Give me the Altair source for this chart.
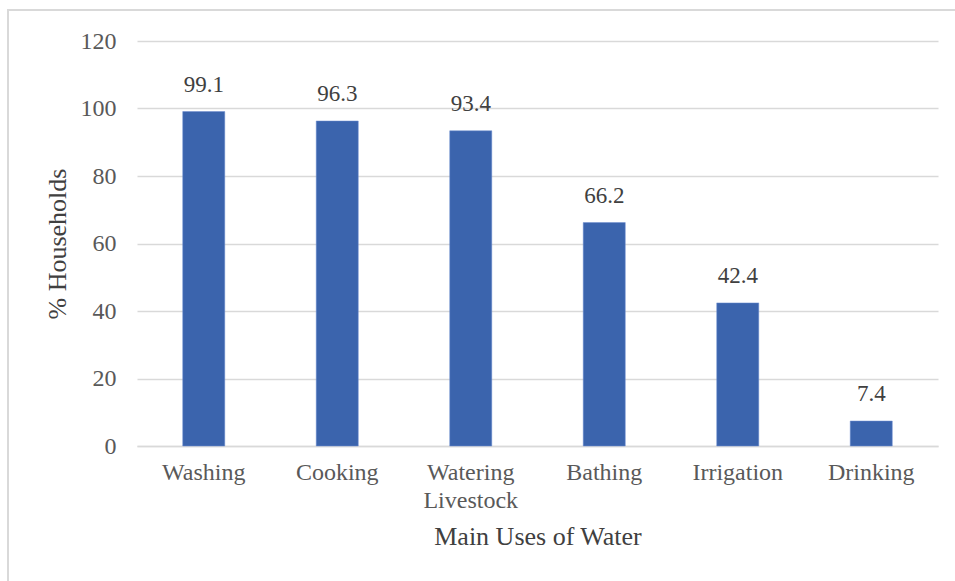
import altair as alt
import pandas as pd

categories = ["Washing", "Cooking", "Watering Livestock", "Bathing", "Irrigation", "Drinking"]
values = [99.1, 96.3, 93.4, 66.2, 42.4, 7.4]
y_ticks = [0, 20, 40, 60, 80, 100, 120]

df = pd.DataFrame({"use": categories, "pct": values})

FONT = "Liberation Serif"
GREY = "#595959"
BAR = "#3B64AD"

x_enc = alt.X(
    "use:N",
    sort=categories,
    scale=alt.Scale(paddingInner=0.685, paddingOuter=0.3425),
    axis=alt.Axis(
        title="Main Uses of Water",
        labelAngle=0,
        labelFont=FONT,
        labelFontSize=24,
        labelColor=GREY,
        labelPadding=14,
        labelLineHeight=28,
        labelExpr="datum.label == 'Watering Livestock' ? ['Watering', 'Livestock'] : datum.label",
        ticks=False,
        domainColor="#d9d9d9",
        domainWidth=1.5,
        titleFont=FONT,
        titleFontSize=26,
        titleFontWeight="normal",
        titleColor="#404040",
        titlePadding=11,
    ),
)

y_enc = alt.Y(
    "pct:Q",
    scale=alt.Scale(domain=[0, 120]),
    axis=alt.Axis(
        title="% Households",
        values=y_ticks,
        labelFont=FONT,
        labelFontSize=24,
        labelColor=GREY,
        labelPadding=21,
        ticks=False,
        domain=False,
        gridColor="#d9d9d9",
        gridWidth=1.5,
        titleFont=FONT,
        titleFontSize=26,
        titleFontWeight="normal",
        titleColor="#404040",
        titlePadding=10,
    ),
)

bars = alt.Chart(df).mark_bar(color=BAR, stroke="#6f8fd0", strokeWidth=0.5).encode(x=x_enc, y=y_enc)

labels = alt.Chart(df).mark_text(
    font=FONT, fontSize=23, color="#404040", baseline="bottom", dy=-15
).encode(
    x=alt.X("use:N", sort=categories),
    y=alt.Y("pct:Q"),
    text=alt.Text("pct:Q", format=".1f"),
)

border = alt.Chart(pd.DataFrame({"a": [0]})).mark_rect(
    fill=None, stroke="#d9d9d9", strokeWidth=2
).encode(
    x=alt.value(-129), x2=alt.value(828), y=alt.value(-31), y2=alt.value(560)
)

chart = (
    alt.layer(border, bars, labels)
    .properties(
        width=801,
        height=405,
        autosize=alt.AutoSizeParams(type="none"),
        padding={"left": 137, "top": 41, "right": 17, "bottom": 135},
        background="white",
    )
    .configure(font=FONT)
    .configure_text(font=FONT)
    .configure_view(stroke=None)
)

chart.save("out.html", embed_options={"renderer": "svg", "actions": False})
